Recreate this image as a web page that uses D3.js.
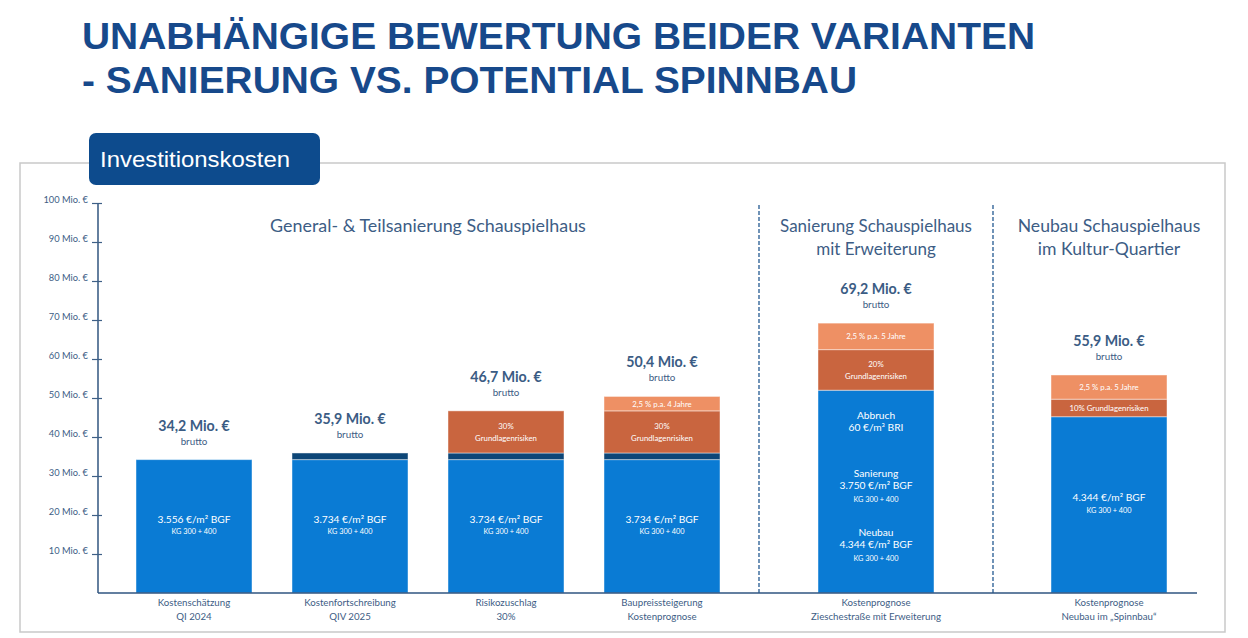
<!DOCTYPE html>
<html><head><meta charset="utf-8">
<script src="https://cdn.jsdelivr.net/npm/d3@7"></script>
<style>
html,body{margin:0;padding:0;background:#fff;}
svg{display:block;}
</style></head>
<body>
<svg id="c" width="1248" height="638"></svg>
<script>
// ---------- data ----------
const titleLines = ["UNABHÄNGIGE BEWERTUNG BEIDER VARIANTEN", "- SANIERUNG VS. POTENTIAL SPINNBAU"];
const panelTitle = "Investitionskosten";
const groupNames = [
  ["General- & Teilsanierung Schauspielhaus"],
  ["Sanierung Schauspielhaus", "mit Erweiterung"],
  ["Neubau Schauspielhaus", "im Kultur-Quartier"]
];
const categories = ["K1","K2","K3","K4","K5","K6"];
const categoryGroup = [0,0,0,0,1,2];
const categoryLabels = [
  ["Kostenschätzung","QI 2024"],
  ["Kostenfortschreibung","QIV 2025"],
  ["Risikozuschlag","30%"],
  ["Baupreissteigerung","Kostenprognose"],
  ["Kostenprognose","Zieschestraße mit Erweiterung"],
  ["Kostenprognose","Neubau im \u201eSpinnbau\u201c"]
];
const baseCost      = [34.2, 34.2, 34.2, 34.2, 52.0, 45.2];
const updateCost    = [0,    1.7,  1.7,  1.7,  0,    0];
const riskCost      = [0,    0,    10.8, 10.8, 10.4, 4.5];
const priceIncrease = [0,    0,    0,    3.7,  6.8,  6.2];
const totalLabels = ["34,2 Mio. €","35,9 Mio. €","46,7 Mio. €","50,4 Mio. €","69,2 Mio. €","55,9 Mio. €"];
const baseTexts = [
  [["3.556 €/m² BGF","KG 300 + 400"]],
  [["3.734 €/m² BGF","KG 300 + 400"]],
  [["3.734 €/m² BGF","KG 300 + 400"]],
  [["3.734 €/m² BGF","KG 300 + 400"]],
  [["Abbruch","60 €/m³ BRI"],["Sanierung","3.750 €/m² BGF","KG 300 + 400"],["Neubau","4.344 €/m² BGF","KG 300 + 400"]],
  [["4.344 €/m² BGF","KG 300 + 400"]]
];
const riskTexts  = [null, null, ["30%","Grundlagenrisiken"], ["30%","Grundlagenrisiken"], ["20%","Grundlagenrisiken"], ["10% Grundlagenrisiken"]];
const priceTexts = [null, null, null, ["2,5 % p.a. 4 Jahre"], ["2,5 % p.a. 5 Jahre"], ["2,5 % p.a. 5 Jahre"]];
const yTicks = [10,20,30,40,50,60,70,80,90,100];

// ---------- layout ----------
const svg = d3.select("#c");
const FONT = "Lato, 'Open Sans', sans-serif";
const TXT = "#3d5d85";
const colors = {base:"#0a7bd4", update:"#0d4677", risk:"#c9653f", price:"#ee9064"};

const frame = {x0:20, y0:163, x1:1225, y1:632};
const axisX = 98;
const y = d3.scaleLinear().domain([0,100]).range([593,203]);
const dividers = [759, 993];
const groupRanges = [[116,740],[dividers[0],dividers[1]],[dividers[1],frame.x1]];
const barW = 116;

// title
const titleWidths = [953, 775];
svg.append("g").selectAll("text").data(titleLines).join("text")
  .attr("x",82).attr("y",(d,i)=>49+i*44)
  .attr("font-family","'Liberation Sans', Arial, sans-serif")
  .attr("font-weight","bold").attr("font-size",37.5)
  .attr("textLength",(d,i)=>titleWidths[i]).attr("lengthAdjust","spacingAndGlyphs")
  .attr("fill","#17498b").text(d=>d);

// frame
svg.append("rect").attr("x",frame.x0).attr("y",frame.y0)
  .attr("width",frame.x1-frame.x0).attr("height",frame.y1-frame.y0)
  .attr("fill","none").attr("stroke","#c9c9c9").attr("stroke-width",1.5);

// panel header
svg.append("rect").attr("x",89).attr("y",133).attr("width",231).attr("height",52)
  .attr("rx",7).attr("fill","#0d4b8d");
svg.append("text").attr("x",100).attr("y",167)
  .attr("font-family","'Liberation Sans', Arial, sans-serif").attr("font-size",22)
  .attr("textLength",190).attr("lengthAdjust","spacingAndGlyphs")
  .attr("fill","#fff").text(panelTitle);

// x positions per category
const groupScales = groupRanges.map((r,gi)=>d3.scalePoint()
  .domain(categories.filter((c,i)=>categoryGroup[i]===gi)).range(r).padding(0.5));
const xc = (i)=>groupScales[categoryGroup[i]](categories[i]);

// dividers
svg.append("g").selectAll("line").data(dividers).join("line")
  .attr("x1",d=>d).attr("x2",d=>d).attr("y1",205).attr("y2",593)
  .attr("stroke","#4d78a6").attr("stroke-width",1.6).attr("stroke-dasharray","4,2");

// group titles
const groupCenters = groupRanges.map(r=>(r[0]+r[1])/2);
const groupSizes = [17.9, 17, 17.6];
groupNames.forEach((lines,gi)=>{
  svg.append("text").attr("text-anchor","middle")
    .attr("font-family",FONT).attr("font-size",groupSizes[gi]).attr("fill",TXT)
    .selectAll("tspan").data(lines).join("tspan")
    .attr("x",groupCenters[gi]).attr("y",(d,i)=>232+i*23).text(d=>d);
});

// stacked bars
const rows = categories.map((c,i)=>({cat:c, i, base:baseCost[i], update:updateCost[i], risk:riskCost[i], price:priceIncrease[i]}));
const keys = ["base","update","risk","price"];
const stacked = d3.stack().keys(keys)(rows);
const gBars = svg.append("g");
stacked.forEach(layer=>{
  gBars.append("g").selectAll("rect").data(layer.filter(d=>d[1]-d[0]>0)).join("rect")
    .attr("x",d=>xc(d.data.i)-barW/2).attr("width",barW)
    .attr("y",d=>y(d[1])).attr("height",d=>y(d[0])-y(d[1]))
    .attr("fill",colors[layer.key])
    .attr("stroke","#ffffff").attr("stroke-opacity",0.45).attr("stroke-width",1);
});

// axes
const yAxis = d3.axisLeft(y).tickValues(yTicks).tickSize(0).tickFormat(d=>d+" Mio. €");
const gy = svg.append("g").attr("transform",`translate(${axisX},0)`).call(yAxis);
gy.select(".domain").remove();
gy.selectAll(".tick text").attr("x",-10).attr("dy","-0.05em")
  .attr("font-family",FONT).attr("font-size",9.3).attr("fill",TXT);
gy.selectAll(".tick").append("line").attr("x1",-6).attr("x2",4)
  .attr("stroke","#3e6087").attr("stroke-width",1.2);
svg.append("line").attr("x1",axisX).attr("x2",axisX).attr("y1",y(100)).attr("y2",y(0))
  .attr("stroke","#3e6087").attr("stroke-width",1.6);
svg.append("line").attr("x1",axisX).attr("x2",1197).attr("y1",y(0)).attr("y2",y(0))
  .attr("stroke","#2f5581").attr("stroke-width",1.6);

// x labels
rows.forEach(r=>{
  svg.append("text").attr("text-anchor","middle").attr("font-family",FONT)
    .attr("font-size",9.7).attr("fill",TXT)
    .selectAll("tspan").data(categoryLabels[r.i]).join("tspan")
    .attr("x",xc(r.i)).attr("y",(d,k)=>606+k*13.5).text(d=>d);
});

// totals
rows.forEach(r=>{
  const top = y(r.base+r.update+r.risk+r.price);
  svg.append("text").attr("x",xc(r.i)).attr("y",top-29).attr("text-anchor","middle")
    .attr("font-family",FONT).attr("font-size",14.2).attr("font-weight","bold").attr("fill","#3b5c84")
    .text(totalLabels[r.i]);
  svg.append("text").attr("x",xc(r.i)).attr("y",top-15).attr("text-anchor","middle")
    .attr("font-family",FONT).attr("font-size",9.8).attr("fill",TXT).text("brutto");
});

// inner texts helper
function block(cx, cy, lines, sizes, lh){
  const n = lines.length;
  const t = svg.append("text").attr("text-anchor","middle").attr("font-family",FONT).attr("fill","#fff");
  lines.forEach((l,k)=>{
    t.append("tspan").attr("x",cx).attr("y",cy + (k-(n-1)/2)*lh + 3)
      .attr("font-size",sizes(l,k)).text(l);
  });
}
const kgSize = 7.3, segSize = 7.8, mainSize = 10.2;
rows.forEach(r=>{
  const cx = xc(r.i);
  const texts = baseTexts[r.i];
  if(texts.length===1){
    const cy = (y(0)+y(r.base))/2 - 1;
    block(cx, cy, texts[0], (l,k)=>k===0?mainSize:kgSize, 11.5);
  } else {
    const top = y(r.base);
    const offs = [32, 96, 155];
    texts.forEach((lines,j)=>{
      block(cx, top+offs[j], lines, (l,k)=>l.startsWith("KG")?kgSize:mainSize, 12.5);
    });
  }
  if(riskTexts[r.i]){
    const y0 = y(r.base+r.update), y1 = y(r.base+r.update+r.risk);
    block(cx,(y0+y1)/2, riskTexts[r.i], ()=>segSize, 11.5);
  }
  if(priceTexts[r.i]){
    const y0 = y(r.base+r.update+r.risk), y1 = y(r.base+r.update+r.risk+r.price);
    block(cx,(y0+y1)/2, priceTexts[r.i], ()=>segSize, 11.5);
  }
});
</script>
</body></html>
